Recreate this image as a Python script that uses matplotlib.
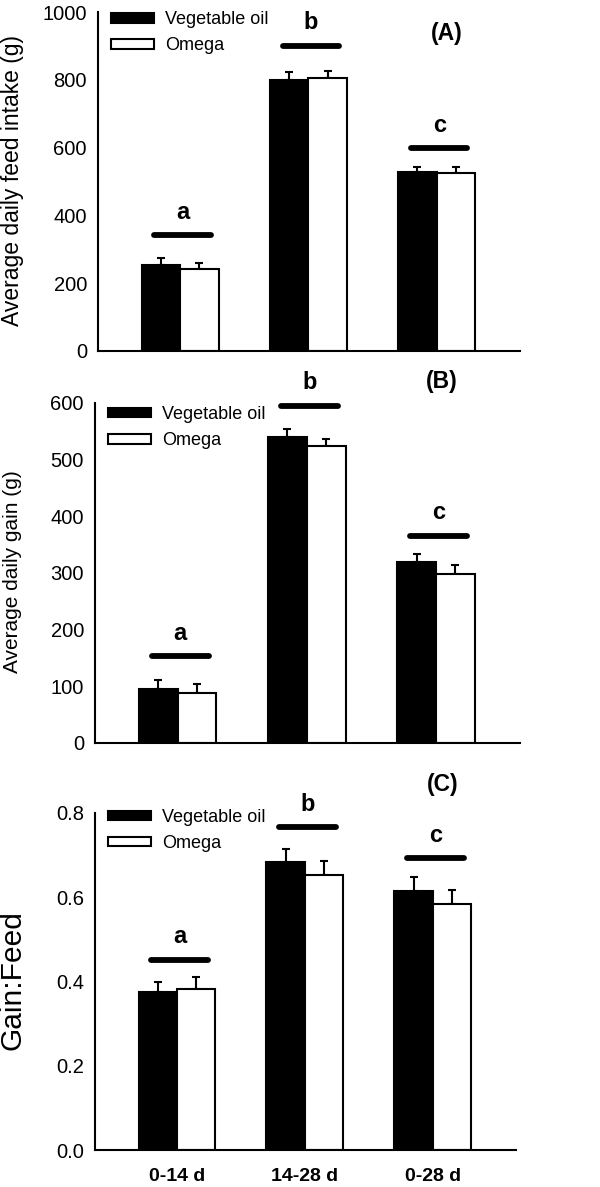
import matplotlib
matplotlib.use("Agg")
import matplotlib.pyplot as plt
from matplotlib.patches import Patch
import numpy as np

plt.rcParams['font.family'] = ['Liberation Sans', 'DejaVu Sans']

groups = ['0-14 d', '14-28 d', '0-28 d']
series = ['Vegetable oil', 'Omega']

# Panel A: Average daily feed intake (g)
a_veg = [254, 800, 529]
a_veg_err = [19, 22, 15]
a_omega = [241, 805, 524]
a_omega_err = [18, 20, 20]
a_sig_y = [342, 901, 598]

# Panel B: Average daily gain (g)
b_veg = [96, 540, 319]
b_veg_err = [15, 15, 15]
b_omega = [88, 524, 299]
b_omega_err = [16, 13, 16]
b_sig_y = [153, 595, 366]

# Panel C: Gain:Feed
c_veg = [0.374, 0.684, 0.616]
c_veg_err = [0.026, 0.031, 0.032]
c_omega = [0.383, 0.654, 0.584]
c_omega_err = [0.027, 0.031, 0.034]
c_sig_y = [0.452, 0.766, 0.693]

sig_letters = ['a', 'b', 'c']

fig = plt.figure(figsize=(6.0, 11.87), dpi=100)
W, H = 600, 1187

def px_axes(l, r, top, bot):
    return [l / W, 1 - bot / H, (r - l) / W, (bot - top) / H]

panels = [
    dict(rect=px_axes(98, 520, 12, 351), veg=a_veg, ve=a_veg_err, om=a_omega, oe=a_omega_err,
         sig=a_sig_y, ylim=(0, 1000), yticks=[0, 200, 400, 600, 800, 1000],
         fmt='{:.0f}', label='(A)', lpos=(0.827, 0.938), ylabel='Average daily feed intake (g)',
         ylab_y=181, ylab_fs=16.5, legy=1.002),
    dict(rect=px_axes(95, 520, 403, 743), veg=b_veg, ve=b_veg_err, om=b_omega, oe=b_omega_err,
         sig=b_sig_y, ylim=(0, 600), yticks=[0, 100, 200, 300, 400, 500, 600],
         fmt='{:.0f}', label='(B)', lpos=(0.816, 1.063), ylabel='Average daily gain (g)',
         ylab_y=572, ylab_fs=15, legy=0.991),
    dict(rect=px_axes(95, 516, 813, 1150), veg=c_veg, ve=c_veg_err, om=c_omega, oe=c_omega_err,
         sig=c_sig_y, ylim=(0, 0.8), yticks=[0.0, 0.2, 0.4, 0.6, 0.8],
         fmt='{:.1f}', label='(C)', lpos=(0.825, 1.084), ylabel='Gain:Feed',
         ylab_y=980, ylab_fs=21.5, legy=1.012),
]

x = np.arange(len(groups))
bw = 0.30

for i, p in enumerate(panels):
    ax = fig.add_axes(p['rect'])
    ymax = p['ylim'][1]
    ax.bar(x - bw / 2, p['veg'], bw, color='black', edgecolor='black', linewidth=1.5, zorder=2)
    ax.bar(x + bw / 2, p['om'], bw, color='white', edgecolor='black', linewidth=1.5, zorder=2)
    ax.errorbar(x - bw / 2, p['veg'], yerr=[np.zeros(3), p['ve']], fmt='none',
                ecolor='black', elinewidth=1.5, capsize=3, capthick=1.5, zorder=1)
    ax.errorbar(x + bw / 2, p['om'], yerr=[np.zeros(3), p['oe']], fmt='none',
                ecolor='black', elinewidth=1.5, capsize=3, capthick=1.5, zorder=1)
    for j in range(3):
        ax.plot([x[j] - 0.2, x[j] + 0.24], [p['sig'][j], p['sig'][j]], color='black',
                lw=4.2, solid_capstyle='round', zorder=3, clip_on=False)
        ax.text(x[j] + 0.02, p['sig'][j] + 0.068 * ymax, sig_letters[j], ha='center',
                va='center', fontsize=17, fontweight='bold', clip_on=False)
    ax.set_xlim(-0.64, 2.65)
    ax.set_ylim(*p['ylim'])
    ax.set_yticks(p['yticks'])
    ax.set_yticklabels([p['fmt'].format(v) for v in p['yticks']], fontsize=14.5)
    ax.spines['top'].set_visible(False)
    ax.spines['right'].set_visible(False)
    ax.spines['left'].set_linewidth(1.5)
    ax.spines['bottom'].set_linewidth(1.5)
    ax.tick_params(axis='y', length=0, pad=8)
    if i == 2:
        ax.set_xticks(x)
        ax.set_xticklabels(groups, fontsize=14, fontweight='bold')
        ax.tick_params(axis='x', length=0, pad=13)
    else:
        ax.set_xticks([])
    ax.text(p['lpos'][0], p['lpos'][1], p['label'], transform=ax.transAxes, ha='center',
            va='center', fontsize=16.5, fontweight='bold', clip_on=False)
    fig.text(13 / W, 1 - p['ylab_y'] / H, p['ylabel'], rotation=90, ha='center', va='center',
             fontsize=p['ylab_fs'])
    handles = [Patch(facecolor='black', edgecolor='black', linewidth=1.5),
               Patch(facecolor='white', edgecolor='black', linewidth=1.5)]
    ax.legend(handles, series, loc='upper left', bbox_to_anchor=(0.03, p['legy']),
              frameon=False, fontsize=13, handlelength=2.4, handleheight=0.45,
              handletextpad=0.6, borderpad=0, borderaxespad=0, labelspacing=0.5)

fig.savefig('out.png', dpi=100)
